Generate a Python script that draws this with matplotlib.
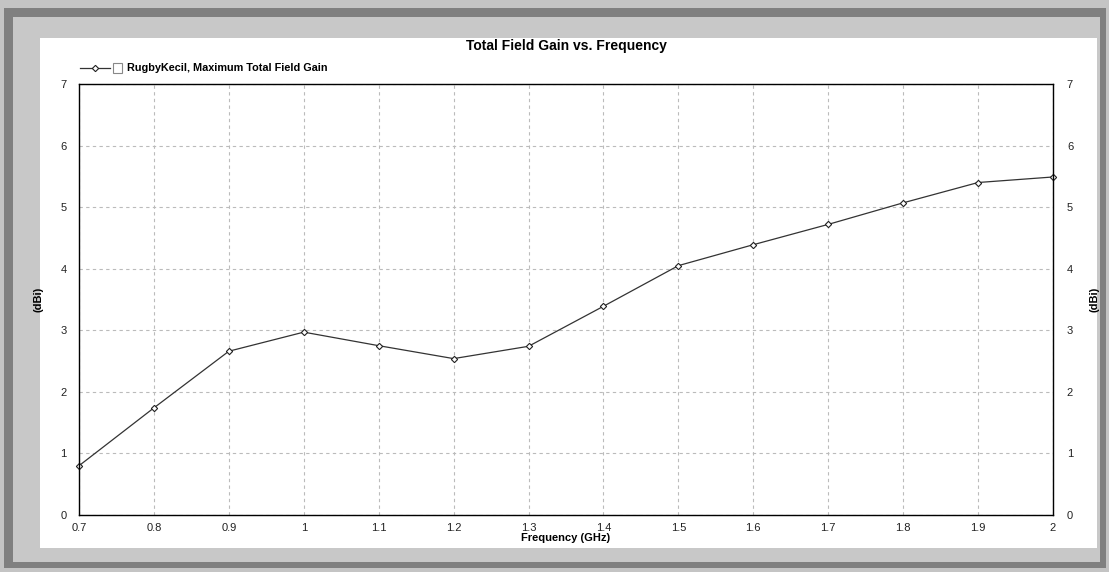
import matplotlib.pyplot as plt
from matplotlib.lines import Line2D
from matplotlib.patches import Rectangle
import numpy as np

freq = [0.7, 0.8, 0.9, 1.0, 1.1, 1.2, 1.3, 1.4, 1.5, 1.6, 1.7, 1.8, 1.9, 2.0]
gain = [0.80, 1.74, 2.66, 2.97, 2.75, 2.54, 2.74, 3.39, 4.05, 4.39, 4.72, 5.07, 5.40, 5.49]
xticks = [0.7, 0.8, 0.9, 1, 1.1, 1.2, 1.3, 1.4, 1.5, 1.6, 1.7, 1.8, 1.9, 2]
yticks = [0, 1, 2, 3, 4, 5, 6, 7]

plt.rcParams['font.family'] = ['Liberation Sans', 'DejaVu Sans']

W, H = 1109, 572
fig = plt.figure(figsize=(W / 100, H / 100), dpi=100)
fig.patch.set_facecolor('#c4c4c4')

# frame: dark border and white panel
fig.patches.append(Rectangle((4 / W, 4 / H), 1102 / W, 1 - 12 / H, transform=fig.transFigure,
                             facecolor='#808080', edgecolor='none', zorder=-3))
fig.patches.append(Rectangle((13 / W, 10 / H), 1087 / W, 1 - 27 / H, transform=fig.transFigure,
                             facecolor='#c8c8c8', edgecolor='none', zorder=-2))
fig.patches.append(Rectangle((40 / W, 24 / H), 1057 / W, 1 - 62 / H, transform=fig.transFigure,
                             facecolor='white', edgecolor='none', zorder=-1))

ax = fig.add_axes([79 / W, 1 - 515 / H, (1053 - 79) / W, (515 - 84) / H])
ax.plot(freq, gain, color='#333333', lw=0.9, marker='D', markersize=3.2,
        markerfacecolor='white', markeredgecolor='#222222', markeredgewidth=0.8, clip_on=False)
ax.set_xlim(0.7, 2.0)
ax.set_ylim(0, 7)
ax.set_xticks(xticks)
ax.set_xticklabels([str(t) for t in xticks])
ax.set_yticks(yticks)
ax.grid(True, color='#bbbbbb', ls=(0, (3, 3)), lw=0.8)
ax.tick_params(length=0, labelsize=8, colors='#222222', pad=6)
ax.tick_params(axis='y', pad=9)
for s in ax.spines.values():
    s.set_color('#333333')
    s.set_linewidth(1.0)

ax2 = ax.twinx()
ax2.set_ylim(0, 7)
ax2.set_yticks(yticks)
ax2.tick_params(length=0, labelsize=8, colors='#222222', pad=10)

ax.set_xlabel('Frequency (GHz)', fontsize=8, fontweight='bold', labelpad=0)
ax.set_ylabel('(dBi)', fontsize=8, fontweight='bold', labelpad=12)
ax2.set_ylabel('(dBi)', fontsize=8, fontweight='bold', labelpad=12)

fig.text(0.5 * (79 + 1053) / W, 1 - 46 / H, 'Total Field Gain vs. Frequency',
         ha='center', va='center', fontsize=10, fontweight='bold')

# legend
ly = 1 - 68 / H
fig.lines.append(Line2D([80 / W, 110 / W], [ly, ly], transform=fig.transFigure, color='#333333', lw=0.9))
fig.lines.append(Line2D([95 / W], [ly], transform=fig.transFigure, marker='D', markersize=3.2,
                        markerfacecolor='white', markeredgecolor='#222222', markeredgewidth=0.8))
fig.patches.append(Rectangle((113 / W, ly - 5 / H), 9 / W, 10 / H, transform=fig.transFigure,
                             facecolor='white', edgecolor='#888888', lw=0.8))
fig.text(127 / W, ly, 'RugbyKecil, Maximum Total Field Gain', ha='left', va='center',
         fontsize=7.8, fontweight='bold')

fig.savefig('out.png', dpi=100, facecolor=fig.get_facecolor())
